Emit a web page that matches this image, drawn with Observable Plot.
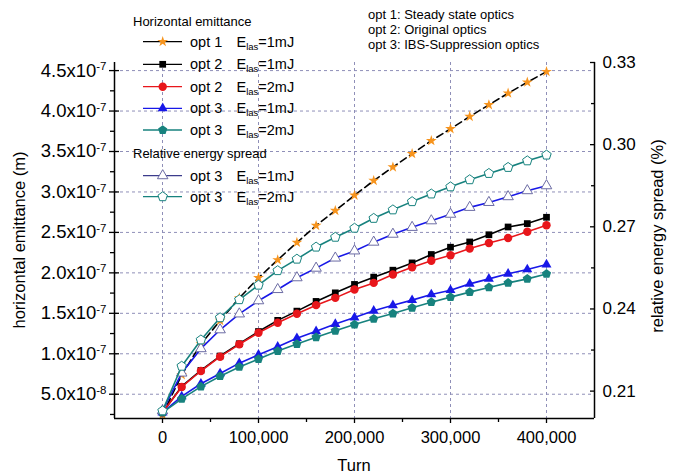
<!DOCTYPE html>
<html><head><meta charset="utf-8">
<script src="https://cdn.jsdelivr.net/npm/d3@7"></script>
<script src="https://cdn.jsdelivr.net/npm/@observablehq/plot@0.6"></script>
<style>
body{margin:0;background:#fff;}
#chart{position:relative;width:674px;height:473px;}
</style></head><body><div id="chart"></div>
<script>
// ---- data ----
const turns = [0,20000,40000,60000,80000,100000,120000,140000,160000,180000,200000,220000,240000,260000,280000,300000,320000,340000,360000,380000,400000];
// horizontal emittance (m), left axis
const emitOpt1_1mJ = [2.45e-8,7.4e-8,1.12e-7,1.41e-7,1.69e-7,1.938e-7,2.16e-7,2.375e-7,2.584e-7,2.77e-7,2.958e-7,3.14e-7,3.307e-7,3.472e-7,3.633e-7,3.78e-7,3.932e-7,4.077e-7,4.22e-7,4.356e-7,4.487e-7];
const emitOpt2_1mJ = [2.73e-8,5.96e-8,7.94e-8,9.72e-8,1.124e-7,1.275e-7,1.413e-7,1.527e-7,1.647e-7,1.753e-7,1.857e-7,1.947e-7,2.033e-7,2.123e-7,2.227e-7,2.317e-7,2.382e-7,2.471e-7,2.567e-7,2.609e-7,2.687e-7];
const emitOpt2_2mJ = [2.73e-8,5.9e-8,7.87e-8,9.64e-8,1.117e-7,1.26e-7,1.383e-7,1.494e-7,1.601e-7,1.691e-7,1.795e-7,1.876e-7,1.98e-7,2.07e-7,2.15e-7,2.218e-7,2.3e-7,2.37e-7,2.43e-7,2.508e-7,2.588e-7];
const emitOpt3_1mJ = [2.73e-8,4.73e-8,6.3e-8,7.57e-8,8.84e-8,9.88e-8,1.086e-7,1.192e-7,1.278e-7,1.367e-7,1.448e-7,1.531e-7,1.599e-7,1.663e-7,1.733e-7,1.786e-7,1.864e-7,1.926e-7,1.988e-7,2.042e-7,2.103e-7];
const emitOpt3_2mJ = [2.73e-8,4.42e-8,5.94e-8,7.23e-8,8.37e-8,9.35e-8,1.034e-7,1.12e-7,1.203e-7,1.284e-7,1.361e-7,1.432e-7,1.497e-7,1.568e-7,1.638e-7,1.7e-7,1.762e-7,1.82e-7,1.876e-7,1.926e-7,1.987e-7];
// relative energy spread (%), right axis
const spreadOpt3_1mJ = [0.2028,0.2166,0.2255,0.2324,0.2382,0.2430,0.2471,0.2514,0.2549,0.2586,0.2612,0.2644,0.2673,0.2698,0.2722,0.2746,0.2771,0.2789,0.2810,0.2832,0.2850];
const spreadOpt3_2mJ = [0.2028,0.2191,0.2287,0.2368,0.2434,0.2487,0.2540,0.2582,0.2626,0.2662,0.2695,0.2731,0.2762,0.2792,0.2820,0.2846,0.2872,0.2895,0.2917,0.2941,0.2962];
// ticks
const xTicks = [0,100000,200000,300000,400000];
const xMinorTicks = [50000,150000,250000,350000];
const leftTicks = [5e-8,1e-7,1.5e-7,2e-7,2.5e-7,3e-7,3.5e-7,4e-7,4.5e-7];
const leftMinorTicks = [2.5e-8,7.5e-8,1.25e-7,1.75e-7,2.25e-7,2.75e-7,3.25e-7,3.75e-7,4.25e-7];
const rightTicks = [0.21,0.24,0.27,0.30,0.33];
const rightMinorTicks = [0.225,0.255,0.285,0.315];
const xDomain = [-50000,450000];
const leftDomain = [2e-8,4.6e-7];
const rightDomain = [0.20,0.33];

// ---- helpers ----
const r2l = v => leftDomain[0] + (v - rightDomain[0]) / (rightDomain[1]-rightDomain[0]) * (leftDomain[1]-leftDomain[0]);
const l2r = v => rightDomain[0] + (v - leftDomain[0]) / (leftDomain[1]-leftDomain[0]) * (rightDomain[1]-rightDomain[0]);
const rows = (vals, conv = d => d) => turns.map((t,i) => ({t, v: conv(vals[i])}));
const sci = d => { const e = Math.floor(Math.log10(d) + 1e-9); const m = d / Math.pow(10,e); return m.toFixed(1) + "x10^" + e; };
const pentagon = { draw(ctx, size) { const R = Math.sqrt(size/2.3776); for (let k=0;k<5;k++){ const a = -Math.PI/2 + k*2*Math.PI/5; const x = R*Math.cos(a), y = R*Math.sin(a); if(k===0) ctx.moveTo(x,y); else ctx.lineTo(x,y);} ctx.closePath(); } };

const C = { orange:"#f7941d", black:"#000000", red:"#e8161b", blue:"#1818e8", teal:"#17827e", tri:"#6c6ca4", grid:"#8f8fb8" };
const FONT = "'Liberation Sans', Arial, Helvetica, sans-serif";

const svg = Plot.plot({
  width: 674, height: 473,
  marginLeft: 114, marginRight: 80, marginTop: 62, marginBottom: 55,
  style: {fontFamily: FONT, fontSize: "16px", background: "#fff", color: "#000"},
  x: {domain: xDomain, label: null},
  y: {domain: leftDomain, label: null},
  marks: [
    Plot.gridX(xTicks, {stroke: C.grid, strokeOpacity: 1, strokeDasharray: "3,3"}),
    Plot.gridY(leftTicks, {stroke: C.grid, strokeOpacity: 1, strokeDasharray: "3,3"}),
    // opt1 1mJ
    Plot.line(rows(emitOpt1_1mJ), {x:"t", y:"v", stroke: C.black, strokeWidth: 1.6, strokeDasharray: "7,4"}),
    Plot.dot(rows(emitOpt1_1mJ), {x:"t", y:"v", symbol:"star", r: 3.4, fill: C.orange, stroke: "none"}),
    // opt2 1mJ
    Plot.line(rows(emitOpt2_1mJ), {x:"t", y:"v", stroke: C.black, strokeWidth: 1.6}),
    Plot.dot(rows(emitOpt2_1mJ), {x:"t", y:"v", symbol:"square", r: 3.8, fill: C.black, stroke: "none"}),
    // opt2 2mJ
    Plot.line(rows(emitOpt2_2mJ), {x:"t", y:"v", stroke: C.red, strokeWidth: 1.6}),
    Plot.dot(rows(emitOpt2_2mJ), {x:"t", y:"v", symbol:"circle", r: 4.2, fill: C.red, stroke: "none"}),
    // opt3 1mJ
    Plot.line(rows(emitOpt3_1mJ), {x:"t", y:"v", stroke: C.blue, strokeWidth: 1.6}),
    Plot.dot(rows(emitOpt3_1mJ), {x:"t", y:"v", symbol:"triangle", r: 3.7, fill: C.blue, stroke: "none"}),
    // opt3 2mJ
    Plot.line(rows(emitOpt3_2mJ), {x:"t", y:"v", stroke: C.teal, strokeWidth: 1.6}),
    Plot.dot(rows(emitOpt3_2mJ), {x:"t", y:"v", symbol: pentagon, r: 4.2, fill: C.teal, stroke: "none"}),
    // energy spread opt3 1mJ
    Plot.line(rows(spreadOpt3_1mJ, r2l), {x:"t", y:"v", stroke: C.blue, strokeWidth: 1.6}),
    Plot.dot(rows(spreadOpt3_1mJ, r2l), {x:"t", y:"v", symbol:"triangle", r: 3.9, fill: "#fff", stroke: C.tri, strokeWidth: 1}),
    // energy spread opt3 2mJ
    Plot.line(rows(spreadOpt3_2mJ, r2l), {x:"t", y:"v", stroke: C.teal, strokeWidth: 1.6}),
    Plot.dot(rows(spreadOpt3_2mJ, r2l), {x:"t", y:"v", symbol: pentagon, r: 4.3, fill: "#fff", stroke: C.teal, strokeWidth: 1}),
    // axes lines
    Plot.ruleX(xDomain, {stroke: "#000", strokeWidth: 1.5}),
    Plot.ruleY([leftDomain[0]], {stroke: "#000", strokeWidth: 1.5}),
    // x axis
    Plot.axisX(xTicks, {anchor:"bottom", tickSize: 5, fill: "none", stroke:"#000", strokeWidth: 1.3, label: null}),
    Plot.axisX(xMinorTicks, {anchor:"bottom", tickSize: 4, fill: "none", stroke:"#000", strokeWidth: 1.3, label: null}),
    Plot.axisX(xTicks, {anchor:"bottom", tickSize: 0, tickPadding: 13, tickFormat: d3.format(","), fontSize: 16.5, fill:"#000", label: null}),
    // left axis
    Plot.axisY(leftTicks, {anchor:"left", tickSize: 10, dx: 5, fill:"none", stroke:"#000", strokeWidth: 1.3, label: null}),
    Plot.axisY(leftMinorTicks, {anchor:"left", tickSize: 4, fill:"none", stroke:"#000", strokeWidth: 1.3, label: null}),
    Plot.axisY(leftTicks, {anchor:"left", tickSize: 0, tickPadding: 8, tickFormat: sci, fontSize: 18.5, fill:"#000", label: null}),
    // right axis
    Plot.axisY(rightTicks.map(r2l), {anchor:"right", tickSize: 5, dx: -5, fill:"none", stroke:"#000", strokeWidth: 1.3, label: null}),
    Plot.axisY(rightMinorTicks.map(r2l), {anchor:"right", tickSize: 4, dx: -4, fill:"none", stroke:"#000", strokeWidth: 1.3, label: null}),
    Plot.axisY(rightTicks.map(r2l), {anchor:"right", tickSize: 0, tickPadding: 8, tickFormat: d => l2r(d).toFixed(2), fontSize: 17, fill:"#000", label: null})
  ]
});
document.getElementById("chart").append(svg);

const s = d3.select(svg);
// superscripts on the left tick labels
s.selectAll("text").each(function(){
  const m = this.textContent.match(/^(.*x10)\^(-?\d+)$/);
  if (m) {
    const el = d3.select(this);
    el.text(null);
    el.append("tspan").text(m[1]);
    el.append("tspan").attr("dy","-0.55em").attr("font-size","0.62em").text(m[2]);
  }
});

// axis titles
s.append("text").attr("transform","translate(25,240) rotate(-90)").attr("text-anchor","middle")
  .attr("font-family",FONT).attr("font-size",16.5).attr("fill","#000").text("horizontal emittance (m)");
s.append("text").attr("transform","translate(663,236) rotate(-90)").attr("text-anchor","middle")
  .attr("font-family",FONT).attr("font-size",16.5).attr("fill","#000").text("relative energy spread (%)");
s.append("text").attr("x",354).attr("y",471).attr("text-anchor","middle")
  .attr("font-family",FONT).attr("font-size",16.5).attr("fill","#000").text("Turn");

// optics notes
const notes = ["opt 1: Steady state optics","opt 2: Original optics","opt 3: IBS-Suppression optics"];
notes.forEach((t,i) => s.append("text").attr("x",368).attr("y",18.5 + i*15).attr("font-family",FONT)
  .attr("text-anchor","start").attr("font-size",13).attr("fill","#000").text(t));

// legend
const lg = s.append("g").attr("font-family",FONT).attr("fill","#000").attr("text-anchor","start");
lg.append("text").attr("x",133).attr("y",26).attr("font-size",13).text("Horizontal emittance");
lg.append("text").attr("x",133).attr("y",158).attr("font-size",13).text("Relative energy spread");
const sym = (type, r) => d3.symbol().type(type).size(Math.PI*r*r)();
const entries = [
  {y:41.7, line:C.black, type:d3.symbolStar, r:3.4, fill:C.orange, stroke:"none", opt:"opt 1", e:"1mJ"},
  {y:64.3, line:C.black, type:d3.symbolSquare, r:3.8, fill:C.black, stroke:"none", opt:"opt 2", e:"1mJ"},
  {y:86.7, line:C.red, type:d3.symbolCircle, r:4.2, fill:C.red, stroke:"none", opt:"opt 2", e:"2mJ"},
  {y:108.3, line:C.blue, type:d3.symbolTriangle, r:3.7, fill:C.blue, stroke:"none", opt:"opt 3", e:"1mJ"},
  {y:130, line:C.teal, type:pentagon, r:4.2, fill:C.teal, stroke:"none", opt:"opt 3", e:"2mJ"},
  {y:175.7, line:"#3c3c8c", type:d3.symbolTriangle, r:3.9, fill:"#fff", stroke:C.tri, opt:"opt 3", e:"1mJ"},
  {y:196.7, line:C.teal, type:pentagon, r:4.3, fill:"#fff", stroke:C.teal, opt:"opt 3", e:"2mJ"}
];
entries.forEach(d => {
  lg.append("line").attr("x1",143).attr("x2",182).attr("y1",d.y).attr("y2",d.y)
    .attr("stroke",d.line).attr("stroke-width",1.3);
  lg.append("path").attr("d", sym(d.type, d.r)).attr("transform",`translate(162.7,${d.y})`)
    .attr("fill",d.fill).attr("stroke",d.stroke).attr("stroke-width",1);
  lg.append("text").attr("x",190).attr("y",d.y+5).attr("font-size",14.5).text(d.opt);
  const t = lg.append("text").attr("x",236.5).attr("y",d.y+5).attr("font-size",14.5);
  t.append("tspan").text("E");
  t.append("tspan").attr("font-size",9.5).attr("dy",3).text("las");
  t.append("tspan").attr("dy",-3).text("=" + d.e);
});
</script>
</body></html>
